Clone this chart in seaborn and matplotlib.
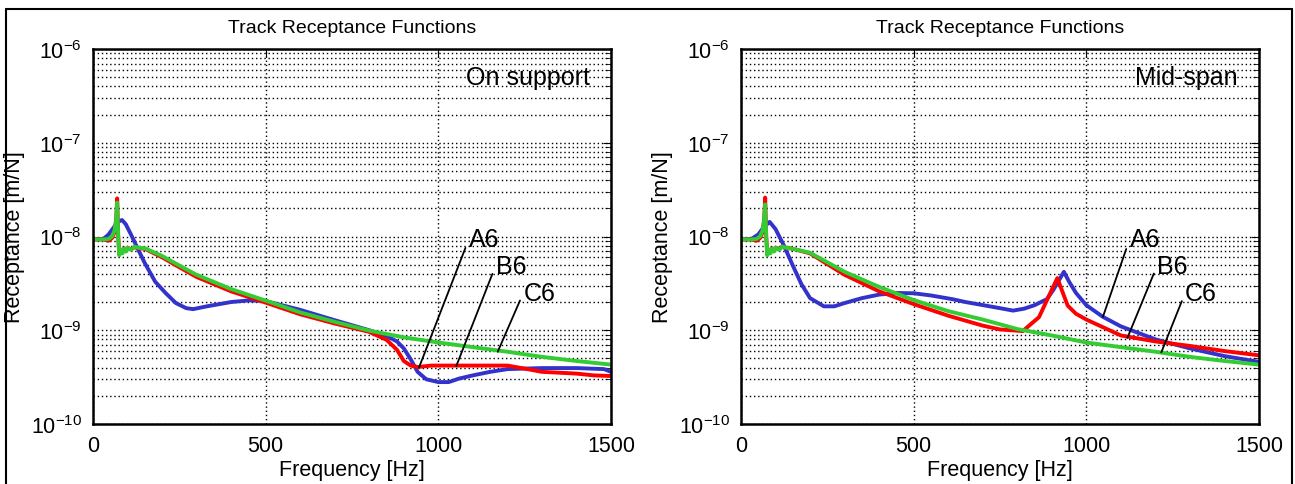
import numpy as np
import pandas as pd
import matplotlib
matplotlib.use('Agg')
import matplotlib.pyplot as plt
import seaborn as sns
from matplotlib.ticker import FixedLocator, NullFormatter

# ---- data ----
# on support
sup_a6_f = [0, 30, 45, 60, 75, 84, 95, 110, 126, 150, 180, 210, 240, 270, 290, 330, 400, 450, 500,
            600, 700, 800, 850, 880, 900, 920, 940, 965, 1000, 1030, 1060, 1100, 1150, 1200, 1300,
            1400, 1480, 1500]
sup_a6_y = [9.3e-9, 9.4e-9, 1.05e-8, 1.25e-8, 1.45e-8, 1.5e-8, 1.35e-8, 1.05e-8, 7.9e-9, 5.2e-9,
            3.3e-9, 2.5e-9, 1.95e-9, 1.72e-9, 1.68e-9, 1.8e-9, 2.0e-9, 2.08e-9, 2.05e-9, 1.65e-9,
            1.28e-9, 1.0e-9, 8.7e-10, 7.6e-10, 6.4e-10, 4.9e-10, 3.6e-10, 3.0e-10, 2.8e-10, 2.8e-10,
            3.05e-10, 3.3e-10, 3.6e-10, 3.85e-10, 3.95e-10, 3.95e-10, 3.85e-10, 3.6e-10]
sup_b6_f = [0, 30, 45, 55, 62, 67, 70, 73, 76, 80, 85, 90, 95, 100, 110, 120, 130, 150, 200, 250,
            300, 400, 500, 600, 700, 800, 850, 880, 900, 920, 940, 980, 1200, 1250, 1300, 1400,
            1450, 1500]
sup_b6_y = [9.3e-9, 9.3e-9, 9.0e-9, 9.6e-9, 1.1e-8, 1.5e-8, 2.55e-8, 1.0e-8, 6.5e-9, 7.2e-9,
            6.7e-9, 7.5e-9, 7.0e-9, 7.6e-9, 7.3e-9, 7.7e-9, 7.5e-9, 7.4e-9, 6.0e-9, 4.7e-9, 3.7e-9,
            2.6e-9, 1.97e-9, 1.48e-9, 1.18e-9, 9.6e-10, 7.9e-10, 6.2e-10, 4.7e-10, 4.2e-10, 4.05e-10,
            4.2e-10, 4.2e-10, 3.9e-10, 3.6e-10, 3.45e-10, 3.3e-10, 3.25e-10]
sup_c6_f = [0, 30, 45, 55, 62, 67, 70, 73, 76, 80, 85, 90, 95, 100, 110, 120, 130, 150, 200, 250,
            300, 400, 500, 600, 700, 800, 900, 1000, 1100, 1200, 1300, 1400, 1500]
sup_c6_y = [9.3e-9, 9.3e-9, 9.4e-9, 1.0e-8, 1.15e-8, 1.5e-8, 2.3e-8, 1.0e-8, 6.3e-9, 7.3e-9,
            6.6e-9, 7.4e-9, 6.9e-9, 7.6e-9, 7.2e-9, 7.8e-9, 7.6e-9, 7.5e-9, 6.2e-9, 4.9e-9, 3.9e-9,
            2.75e-9, 2.07e-9, 1.55e-9, 1.23e-9, 9.9e-10, 8.4e-10, 7.4e-10, 6.6e-10, 5.9e-10,
            5.2e-10, 4.7e-10, 4.3e-10]

# mid-span
mid_a6_f = [0, 30, 50, 65, 83, 100, 125, 150, 175, 200, 240, 270, 300, 350, 400, 450, 500, 550,
            611, 650, 709, 750, 788, 820, 850, 886, 906, 935, 950, 970, 1000, 1048, 1100, 1200,
            1300, 1400, 1500]
mid_a6_y = [9.3e-9, 9.4e-9, 1.05e-8, 1.25e-8, 1.43e-8, 1.2e-8, 7.9e-9, 4.9e-9, 3.1e-9, 2.2e-9,
            1.8e-9, 1.8e-9, 1.95e-9, 2.2e-9, 2.4e-9, 2.5e-9, 2.48e-9, 2.35e-9, 2.15e-9, 2.0e-9,
            1.83e-9, 1.72e-9, 1.62e-9, 1.7e-9, 1.85e-9, 2.15e-9, 2.75e-9, 4.2e-9, 3.3e-9, 2.5e-9,
            1.85e-9, 1.39e-9, 1.1e-9, 8.0e-10, 6.4e-10, 5.3e-10, 4.6e-10]
mid_b6_f = [0, 30, 45, 55, 62, 67, 70, 73, 76, 80, 85, 90, 95, 100, 110, 120, 130, 150, 200, 300,
            400, 500, 600, 700, 750, 816, 828, 863, 892, 916, 946, 970, 1000, 1100, 1200, 1300,
            1400, 1500]
mid_b6_y = [9.3e-9, 9.3e-9, 9.0e-9, 9.6e-9, 1.1e-8, 1.5e-8, 2.6e-8, 1.0e-8, 6.5e-9, 7.2e-9,
            6.7e-9, 7.5e-9, 7.0e-9, 7.6e-9, 7.4e-9, 7.8e-9, 7.6e-9, 7.4e-9, 6.6e-9, 3.9e-9, 2.6e-9,
            1.9e-9, 1.43e-9, 1.12e-9, 1.02e-9, 9.8e-10, 1.07e-9, 1.38e-9, 2.34e-9, 3.6e-9, 1.83e-9,
            1.5e-9, 1.3e-9, 8.8e-10, 7.6e-10, 6.8e-10, 6.0e-10, 5.4e-10]
mid_c6_f = [0, 30, 45, 55, 62, 67, 70, 73, 76, 80, 85, 90, 95, 100, 110, 120, 130, 150, 200, 300,
            400, 500, 600, 700, 800, 900, 1000, 1100, 1200, 1300, 1400, 1500]
mid_c6_y = [9.3e-9, 9.3e-9, 9.4e-9, 1.0e-8, 1.15e-8, 1.5e-8, 2.2e-8, 1.0e-8, 6.3e-9, 7.3e-9,
            6.6e-9, 7.4e-9, 6.9e-9, 7.6e-9, 7.2e-9, 7.8e-9, 7.6e-9, 7.4e-9, 6.7e-9, 4.2e-9, 2.9e-9,
            2.1e-9, 1.6e-9, 1.3e-9, 1.03e-9, 8.8e-10, 7.4e-10, 6.6e-10, 5.9e-10, 5.2e-10, 4.7e-10,
            4.3e-10]

series_names = ['A6', 'B6', 'C6']
series_colors = ['#3333cc', '#ff0000', '#33cc33']
panel_titles = ['On support', 'Mid-span']
freq_ticks = [0, 500, 1000, 1500]
decade_exps = [-10, -9, -8, -7, -6]

# label text position (left-centre) and the point on the curve the leader goes to
sup_label_xy = [(1088, 9.3e-9), (1166, 4.9e-9), (1246, 2.5e-9)]
sup_point_xy = [(944, 4.0e-10), (1052, 4.15e-10), (1172, 5.9e-10)]
mid_label_xy = [(1125, 9.3e-9), (1205, 4.9e-9), (1286, 2.5e-9)]
mid_point_xy = [(1048, 1.39e-9), (1119, 8.3e-10), (1217, 5.8e-10)]


def long_frame(fa, ya, fb, yb, fc, yc):
    parts = []
    for name, f, y in zip(series_names, [fa, fb, fc], [ya, yb, yc]):
        parts.append(pd.DataFrame({'freq': f, 'rec': y, 'series': name}))
    return pd.concat(parts, ignore_index=True)


sup_df = long_frame(sup_a6_f, sup_a6_y, sup_b6_f, sup_b6_y, sup_c6_f, sup_c6_y)
mid_df = long_frame(mid_a6_f, mid_a6_y, mid_b6_f, mid_b6_y, mid_c6_f, mid_c6_y)

major_y = [10.0 ** e for e in decade_exps]
minor_y = [m * 10.0 ** e for e in decade_exps[:-1] for m in range(2, 10)]

sns.set_style('white')
plt.rcParams['font.family'] = ['Liberation Sans', 'DejaVu Sans']
plt.rcParams['mathtext.default'] = 'regular'
for key in ['text.color', 'axes.labelcolor', 'xtick.color', 'ytick.color']:
    plt.rcParams[key] = 'black'

fig = plt.figure(figsize=(12.95, 4.85), dpi=100)
ax1 = fig.add_axes([93 / 1295, 60 / 485, 518 / 1295, 375 / 485])
ax2 = fig.add_axes([741 / 1295, 60 / 485, 518 / 1295, 375 / 485])

panels = [(ax1, sup_df, panel_titles[0], sup_label_xy, sup_point_xy),
          (ax2, mid_df, panel_titles[1], mid_label_xy, mid_point_xy)]

for ax, df, tag, lab_xy, pt_xy in panels:
    sns.lineplot(data=df, x='freq', y='rec', hue='series', hue_order=series_names,
                 palette=series_colors, sort=False, estimator=None, lw=2.8,
                 legend=False, ax=ax)
    ax.set_yscale('log')
    ax.set_xlim(0, 1500)
    ax.set_ylim(1e-10, 1e-6)
    ax.set_xticks(freq_ticks)
    ax.yaxis.set_major_locator(FixedLocator(major_y))
    ax.set_yticklabels(['$10^{%d}$' % e for e in decade_exps])
    ax.yaxis.set_minor_locator(FixedLocator(minor_y))
    ax.yaxis.set_minor_formatter(NullFormatter())
    ax.grid(True, which='major', axis='both', color='black', linestyle=(0, (1, 2)), lw=1.0)
    ax.grid(True, which='minor', axis='y', color='black', linestyle=(0, (1, 2)), lw=1.0)
    ax.tick_params(which='both', direction='in', top=True, right=True, labelsize=15.5,
                   color='black')
    ax.tick_params(which='major', length=6, pad=8)
    ax.tick_params(which='minor', length=4)
    for sp in ax.spines.values():
        sp.set_color('black')
        sp.set_linewidth(1.8)
    ax.set_title('Track Receptance Functions', fontsize=14, pad=12)
    ax.set_xlabel('Frequency [Hz]', fontsize=15.5, labelpad=2)
    ax.set_ylabel('Receptance [m/N]', fontsize=15.5, labelpad=4)
    ax.text(1438, 5.0e-7, tag, ha='right', va='center', fontsize=18)
    for name, (tx, ty), (px, py) in zip(series_names, lab_xy, pt_xy):
        ax.annotate(name, xy=(px, py), xytext=(tx, ty), textcoords='data',
                    ha='left', va='center', fontsize=18,
                    arrowprops=dict(arrowstyle='-', color='black', lw=1.3,
                                    shrinkA=0, shrinkB=0, relpos=(0, 0.5)))

# outer frame
frame_kw = dict(color='black', lw=1.5, transform=fig.transFigure)
top = 1 - 10 / 485
fig.add_artist(plt.Line2D([6 / 1295, 1292 / 1295], [top, top], **frame_kw))
fig.add_artist(plt.Line2D([6 / 1295, 6 / 1295], [0, top], **frame_kw))
fig.add_artist(plt.Line2D([1292 / 1295, 1292 / 1295], [0, top], **frame_kw))

fig.savefig('out.png', dpi=100)
